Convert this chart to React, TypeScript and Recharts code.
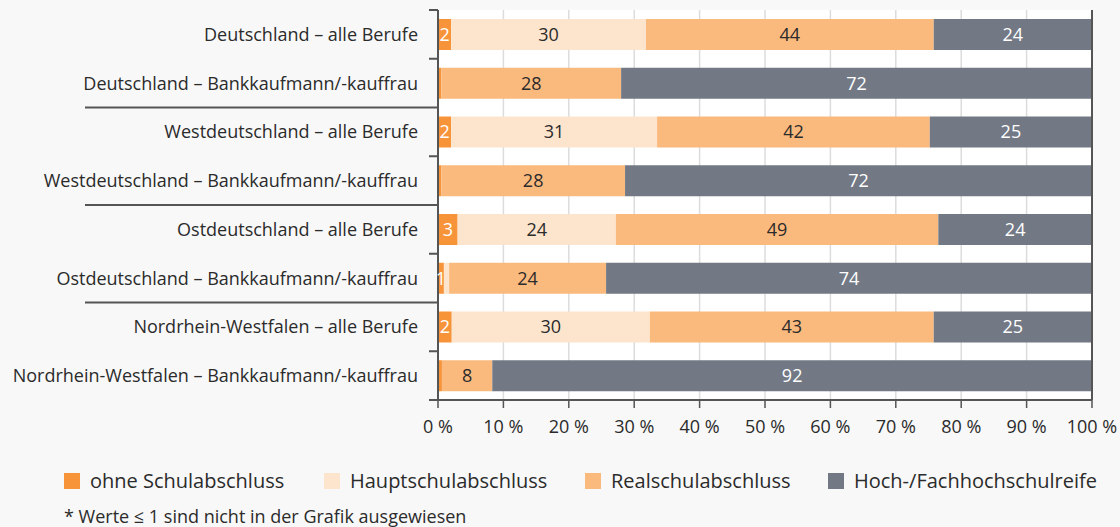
import React from "react";
import {
  BarChart,
  Bar,
  XAxis,
  YAxis,
  CartesianGrid,
  LabelList,
  Legend,
  ReferenceLine,
} from "recharts";

const categories = [
  "Deutschland – alle Berufe",
  "Deutschland – Bankkaufmann/-kauffrau",
  "Westdeutschland – alle Berufe",
  "Westdeutschland – Bankkaufmann/-kauffrau",
  "Ostdeutschland – alle Berufe",
  "Ostdeutschland – Bankkaufmann/-kauffrau",
  "Nordrhein-Westfalen – alle Berufe",
  "Nordrhein-Westfalen – Bankkaufmann/-kauffrau",
];

const ohneValues = [2.0, 0.5, 2.0, 0.5, 3.0, 0.9, 2.1, 0.6];
const hauptValues = [29.8, 0, 31.5, 0, 24.2, 0.8, 30.3, 0];
const realValues = [44.0, 27.5, 41.7, 28.1, 49.3, 24.0, 43.4, 7.7];
const hochValues = [24.2, 72.0, 24.8, 71.4, 23.5, 74.3, 24.2, 91.7];

const ohneLabels = ["2", "", "2", "", "3", "1", "2", ""];
const hauptLabels = ["30", "", "31", "", "24", "", "30", ""];
const realLabels = ["44", "28", "42", "28", "49", "24", "43", "8"];
const hochLabels = ["24", "72", "25", "72", "24", "74", "25", "92"];

const xTicks = [0, 10, 20, 30, 40, 50, 60, 70, 80, 90, 100];

const seriesNames = [
  "ohne Schulabschluss",
  "Hauptschulabschluss",
  "Realschulabschluss",
  "Hoch-/Fachhochschulreife",
];
const footnote = "* Werte ≤ 1 sind nicht in der Grafik ausgewiesen";

const COLORS = ["#F7943A", "#FDE5CD", "#FBBA7D", "#727985"];
const LABEL_COLORS = ["#ffffff", "#2b2b2b", "#2b2b2b", "#ffffff"];

const data = categories.map((name, i) => ({
  name,
  ohne: ohneValues[i],
  haupt: hauptValues[i],
  real: realValues[i],
  hoch: hochValues[i],
  ohneL: ohneLabels[i],
  hauptL: hauptLabels[i],
  realL: realLabels[i],
  hochL: hochLabels[i],
}));

const W = 1120;
const H = 527;
const TOP = 10;
const RIGHT = 28;
const AXIS_X = 438;
const PLOT_BOTTOM = 400;
const XAXIS_H = 40;
const BAND = (PLOT_BOTTOM - TOP) / categories.length;
const FONT = "'Open Sans', 'DejaVu Sans', sans-serif";
const AXIS_COLOR = "#555";
const TEXT_COLOR = "#2b2b2b";

const YTick = (props: any) => {
  const { y, payload, index } = props;
  const lines: React.ReactNode[] = [];
  if (index === 0) {
    lines.push(
      <line key="t" x1={AXIS_X - 9} x2={AXIS_X} y1={y - BAND / 2} y2={y - BAND / 2} stroke={AXIS_COLOR} strokeWidth={2} />
    );
  }
  const by = y + BAND / 2;
  const long = index % 2 === 1 && index !== categories.length - 1;
  lines.push(
    <line
      key="b"
      x1={long ? 85 : AXIS_X - 9}
      x2={AXIS_X}
      y1={by}
      y2={by}
      stroke={AXIS_COLOR}
      strokeWidth={2}
    />
  );
  return (
    <g>
      {lines}
      <text
        x={AXIS_X - 20}
        y={y}
        dy="0.36em"
        textAnchor="end"
        fontFamily={FONT}
        fontSize={18}
        fill={TEXT_COLOR}
      >
        {payload.value}
      </text>
    </g>
  );
};

const makeLabel = (color: string) => (props: any) => {
  const { x, y, width, height, value } = props;
  if (!value) return null;
  return (
    <text
      x={Number(x) + Number(width) / 2}
      y={Number(y) + Number(height) / 2}
      dy="0.36em"
      textAnchor="middle"
      fontFamily={FONT}
      fontSize={18}
      fill={color}
    >
      {value}
    </text>
  );
};

const legendX = [64, 324, 585, 828];

const LegendContent = () => (
  <div style={{ position: "relative", width: W, height: 54, fontFamily: FONT }}>
    {seriesNames.map((n, i) => (
      <div
        key={n}
        style={{
          position: "absolute",
          left: legendX[i],
          top: 0,
          display: "flex",
          alignItems: "center",
          height: 18,
        }}
      >
        <span style={{ width: 16, height: 16, background: COLORS[i], display: "inline-block", flex: "none" }} />
        <span style={{ marginLeft: 10, fontSize: 20, lineHeight: "20px", color: TEXT_COLOR, whiteSpace: "nowrap" }}>{n}</span>
      </div>
    ))}
    <div
      style={{
        position: "absolute",
        left: 64,
        top: 35,
        fontSize: 18,
        lineHeight: "18px",
        color: TEXT_COLOR,
        whiteSpace: "nowrap",
      }}
    >
      {footnote}
    </div>
  </div>
);

export default function App() {
  return (
    <div
      style={{
        position: "absolute",
        left: 0,
        top: 0,
        width: W,
        height: H,
        background: "#F8F8F8",
        overflow: "hidden",
      }}
    >
      <BarChart
        width={W}
        height={H}
        data={data}
        layout="vertical"
        margin={{ top: TOP, right: RIGHT, left: 0, bottom: H - PLOT_BOTTOM - XAXIS_H }}
        barSize={31}
      >
        <CartesianGrid horizontal={false} stroke="#dcdcdc" strokeWidth={1.5} fill="#ffffff" />
        <XAxis
          type="number"
          domain={[0, 100]}
          ticks={xTicks}
          allowDataOverflow
          interval={0}
          height={XAXIS_H}
          tickFormatter={(v: number) => `${v} %`}
          tick={{ fontFamily: FONT, fontSize: 18, fill: TEXT_COLOR }}
          tickSize={8}
          tickMargin={12}
          axisLine={{ stroke: AXIS_COLOR, strokeWidth: 2 }}
          tickLine={{ stroke: AXIS_COLOR, strokeWidth: 1.5 }}
        />
        <XAxis
          xAxisId="top"
          orientation="top"
          type="number"
          domain={[0, 100]}
          height={0}
          tick={false}
          tickLine={false}
          axisLine={{ stroke: AXIS_COLOR, strokeWidth: 2 }}
        />
        <YAxis
          type="category"
          dataKey="name"
          width={AXIS_X}
          axisLine={{ stroke: AXIS_COLOR, strokeWidth: 2 }}
          tickLine={false}
          interval={0}
          tick={<YTick />}
        />
        <ReferenceLine x={100} stroke={AXIS_COLOR} strokeWidth={2} ifOverflow="visible" />
        <Bar dataKey="ohne" stackId="a" fill={COLORS[0]} isAnimationActive={false} name={seriesNames[0]}>
          <LabelList dataKey="ohneL" content={makeLabel(LABEL_COLORS[0])} />
        </Bar>
        <Bar dataKey="haupt" stackId="a" fill={COLORS[1]} isAnimationActive={false} name={seriesNames[1]}>
          <LabelList dataKey="hauptL" content={makeLabel(LABEL_COLORS[1])} />
        </Bar>
        <Bar dataKey="real" stackId="a" fill={COLORS[2]} isAnimationActive={false} name={seriesNames[2]}>
          <LabelList dataKey="realL" content={makeLabel(LABEL_COLORS[2])} />
        </Bar>
        <Bar dataKey="hoch" stackId="a" fill={COLORS[3]} isAnimationActive={false} name={seriesNames[3]}>
          <LabelList dataKey="hochL" content={makeLabel(LABEL_COLORS[3])} />
        </Bar>
        <Legend
          layout="horizontal"
          verticalAlign="middle"
          align="center"
          wrapperStyle={{ left: 0, top: 472, width: W }}
          content={<LegendContent />}
        />
      </BarChart>
    </div>
  );
}
